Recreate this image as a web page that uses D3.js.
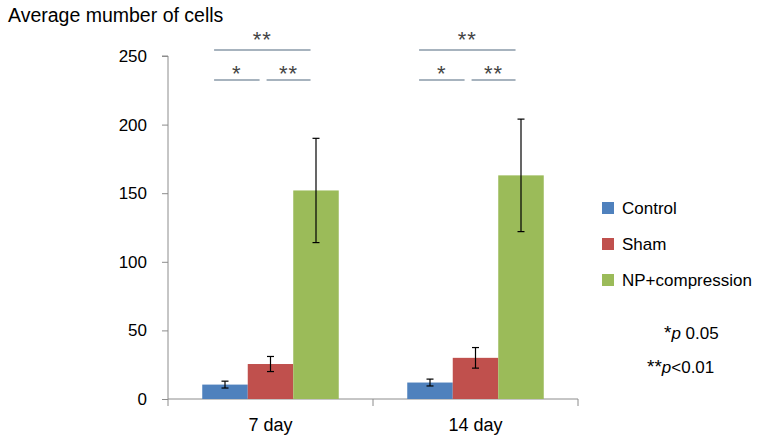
<!DOCTYPE html>
<html><head><meta charset="utf-8">
<script src="https://cdn.jsdelivr.net/npm/d3@7"></script>
<style>body{margin:0;background:#fff}svg{display:block;font-family:Arial,"Liberation Sans",sans-serif}</style>
</head><body>
<svg id="c" width="763" height="445"></svg>
<script>
const categories = ["7 day", "14 day"];
const seriesNames = ["Control", "Sham", "NP+compression"];
const seriesColors = ["#4F81BD", "#C0504D", "#9BBB59"];
const controlValues = [10.5, 12];
const shamValues = [25.5, 30];
const npValues = [152, 163];
const controlErr = [2.5, 2.5];
const shamErr = [5.5, 7.5];
const npErr = [38, 41];
const yTicks = [0, 50, 100, 150, 200, 250];
// significance: [category, fromSeries, toSeries, label, level]
const sigPairs = [
  [0, 0, 2, "**", 0], [0, 0, 1, "*", 1], [0, 1, 2, "**", 1],
  [1, 0, 2, "**", 0], [1, 0, 1, "*", 1], [1, 1, 2, "**", 1]
];

const values = [controlValues, shamValues, npValues];
const errs = [controlErr, shamErr, npErr];

const svg = d3.select("#c");
const L = 168, R = 578, T = 56, B = 399;
const x0 = d3.scaleBand().domain(categories).range([L, R]).paddingInner(0).paddingOuter(0);
const barGroup = 136.5;
const x1b = d3.scaleBand().domain(seriesNames)
  .range([(x0.bandwidth() - barGroup) / 2, (x0.bandwidth() + barGroup) / 2]);
const y = d3.scaleLinear().domain([0, 250]).range([B, T]);
const axisColor = "#8c8c8c";
const FF = "Arial, Liberation Sans, sans-serif";

// Y axis
const yAxis = svg.append("g").attr("transform", `translate(${L},0)`)
  .call(d3.axisLeft(y).tickValues(yTicks).tickSize(6).tickPadding(15));
yAxis.select(".domain").attr("stroke", axisColor).attr("d", `M-6,${T}H0V${B}`);
yAxis.selectAll(".tick line").attr("stroke", axisColor);
yAxis.selectAll(".tick text").attr("font-size", 17).attr("fill", "#000").attr("font-family", FF);

// X axis
const xAxis = svg.append("g").attr("transform", `translate(0,${B})`)
  .call(d3.axisBottom(x0).tickSize(0).tickPadding(19));
xAxis.select(".domain").attr("stroke", axisColor).attr("d", `M${L},0H${R}`);
xAxis.selectAll(".tick text").attr("font-size", 18).attr("fill", "#000").attr("font-family", FF);
const boundaries = [L, L + x0.bandwidth(), R];
xAxis.selectAll(".bnd").data(boundaries).enter().append("line")
  .attr("x1", d => d).attr("x2", d => d).attr("y1", 0).attr("y2", 7)
  .attr("stroke", axisColor);

// Bars
seriesNames.forEach((s, si) => {
  categories.forEach((c, ci) => {
    const v = values[si][ci], e = errs[si][ci];
    const bx = x0(c) + x1b(s), bw = x1b.bandwidth();
    svg.append("rect").attr("x", bx).attr("y", y(v)).attr("width", bw)
      .attr("height", y(0) - y(v)).attr("fill", seriesColors[si]);
    const cx = bx + bw / 2;
    const g = svg.append("g").attr("stroke", "#000").attr("stroke-width", 1.2);
    g.append("line").attr("x1", cx).attr("x2", cx).attr("y1", y(v + e)).attr("y2", y(v - e));
    g.append("line").attr("x1", cx - 3.5).attr("x2", cx + 3.5).attr("y1", y(v + e)).attr("y2", y(v + e));
    g.append("line").attr("x1", cx - 3.5).attr("x2", cx + 3.5).attr("y1", y(v - e)).attr("y2", y(v - e));
  });
});

// Significance
sigPairs.forEach(([ci, a, b, lab, lvl]) => {
  const bw = x1b.bandwidth();
  let xa = x0(categories[ci]) + x1b(seriesNames[a]) + bw * 0.26;
  let xb = x0(categories[ci]) + x1b(seriesNames[b]) + bw * 0.38;
  if (lvl === 1) {
    if (a === 1) xa += 7;
    if (b === 1) xb = x0(categories[ci]) + x1b(seriesNames[b]) + bw * 0.26;
  }
  const ly = lvl === 0 ? 50 : 80;
  svg.append("line").attr("x1", xa).attr("x2", xb).attr("y1", ly).attr("y2", ly)
    .attr("stroke", "#8a9aa8").attr("stroke-width", 1.3);
  svg.append("text").attr("x", (xa + xb) / 2).attr("y", ly + (lvl === 0 ? -3 : 1))
    .attr("text-anchor", "middle").attr("font-size", 22).attr("fill", "#444")
    .attr("letter-spacing", 1).text(lab);
});

// Title
svg.append("text").attr("x", 8).attr("y", 22).attr("font-size", 19.5).attr("fill", "#000")
  .text("Average mumber of cells");

// Legend
const lg = svg.append("g").attr("transform", "translate(602,202)");
seriesNames.forEach((s, i) => {
  lg.append("rect").attr("x", 0).attr("y", i * 36).attr("width", 12).attr("height", 12)
    .attr("fill", seriesColors[i]);
  lg.append("text").attr("x", 20).attr("y", i * 36 + 12).attr("font-size", 17)
    .attr("fill", "#000").text(s);
});

// p-value notes
const n1 = svg.append("text").attr("x", 664).attr("y", 339).attr("font-size", 17).attr("fill", "#000");
n1.append("tspan").attr("font-size", 19).text("*");
n1.append("tspan").attr("font-style", "italic").text("p");
n1.append("tspan").text(" 0.05");
const n2 = svg.append("text").attr("x", 647).attr("y", 373).attr("font-size", 17).attr("fill", "#000");
n2.append("tspan").attr("font-size", 19).text("**");
n2.append("tspan").attr("font-style", "italic").text("p");
n2.append("tspan").text("<0.01");
</script>
</body></html>
